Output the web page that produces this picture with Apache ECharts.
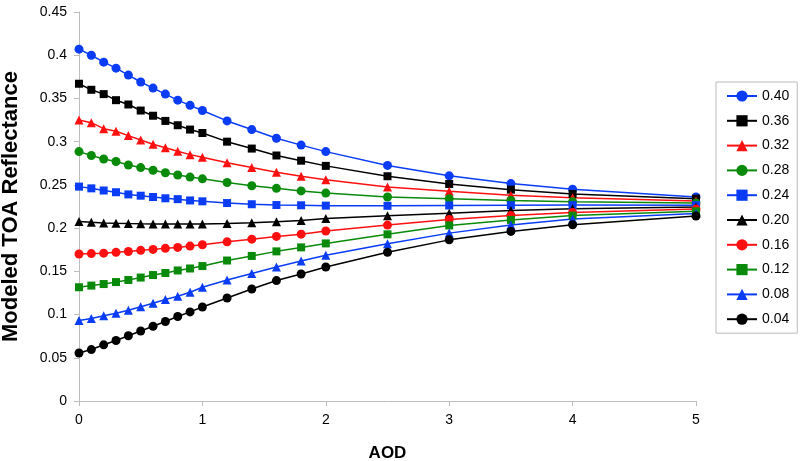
<!DOCTYPE html>
<html>
<head>
<meta charset="utf-8">
<script src="https://cdn.jsdelivr.net/npm/echarts@6/dist/echarts.min.js"></script>
<style>
html,body{margin:0;padding:0;background:#fff;}
#chart{width:801px;height:461px;}
</style>
</head>
<body>
<div id="chart"></div>
<script>
const aod = [0,0.1,0.2,0.3,0.4,0.5,0.6,0.7,0.8,0.9,1.0,1.2,1.4,1.6,1.8,2.0,2.5,3.0,3.5,4.0,5.0];

const s040 = [0.407,0.400,0.392,0.385,0.377,0.369,0.362,0.355,0.348,0.342,0.336,0.324,0.314,0.304,0.296,0.2885,0.2725,0.2605,0.2515,0.245,0.236];
const s036 = [0.367,0.360,0.355,0.348,0.343,0.336,0.330,0.324,0.319,0.314,0.310,0.300,0.292,0.284,0.278,0.272,0.260,0.251,0.2445,0.2395,0.234];
const s032 = [0.325,0.322,0.315,0.312,0.307,0.302,0.297,0.293,0.289,0.285,0.282,0.2755,0.270,0.2645,0.260,0.256,0.2475,0.2425,0.238,0.235,0.2315];
const s028 = [0.2885,0.284,0.280,0.277,0.273,0.270,0.267,0.264,0.2615,0.259,0.257,0.2527,0.249,0.246,0.243,0.2405,0.236,0.234,0.232,0.2305,0.229];
const s024 = [0.248,0.246,0.2435,0.2415,0.239,0.2375,0.236,0.2345,0.2335,0.232,0.231,0.229,0.2276,0.2267,0.2264,0.226,0.2258,0.2262,0.2265,0.2266,0.2265];
const s020 = [0.2077,0.2067,0.206,0.2055,0.2052,0.205,0.2049,0.2049,0.2049,0.2049,0.2049,0.2054,0.2062,0.2073,0.2087,0.211,0.2142,0.2173,0.2205,0.2225,0.2245];
const s016 = [0.170,0.1705,0.171,0.172,0.173,0.1743,0.1754,0.1766,0.1777,0.1792,0.1808,0.1841,0.1872,0.1904,0.193,0.1967,0.2035,0.210,0.2145,0.218,0.222];
const s012 = [0.1316,0.1335,0.1353,0.1376,0.140,0.1428,0.1457,0.1481,0.151,0.1533,0.1561,0.1625,0.1678,0.1731,0.1777,0.1823,0.1928,0.2031,0.2095,0.2145,0.2195];
const s008 = [0.093,0.0955,0.0985,0.1015,0.105,0.109,0.113,0.1174,0.1212,0.1258,0.1316,0.140,0.1475,0.155,0.162,0.1685,0.182,0.1942,0.2035,0.2105,0.217];
const s004 = [0.0555,0.0595,0.065,0.070,0.0755,0.081,0.0865,0.092,0.0977,0.1031,0.1088,0.1192,0.1296,0.1393,0.1469,0.155,0.1721,0.1864,0.1962,0.2039,0.214];

const seriesNames = ['0.40','0.36','0.32','0.28','0.24','0.20','0.16','0.12','0.08','0.04'];
const seriesValues = [s040,s036,s032,s028,s024,s020,s016,s012,s008,s004];

const BLUE='#0a3cf5', BLACK='#000000', RED='#ff1010', GREEN='#0a8a0a';
const styles = [
  {c:BLUE, s:'circle', z:9},
  {c:BLACK, s:'rect', z:8},
  {c:RED, s:'triangle', z:9},
  {c:GREEN, s:'circle', z:9},
  {c:BLUE, s:'rect', z:8},
  {c:BLACK, s:'triangle', z:9},
  {c:RED, s:'circle', z:9},
  {c:GREEN, s:'rect', z:8},
  {c:BLUE, s:'triangle', z:9},
  {c:BLACK, s:'circle', z:9}
];

const series = seriesNames.map((n,i)=>({
  name:n,
  type:'line',
  data: aod.map((x,j)=>[x, seriesValues[i][j]]),
  symbol: styles[i].s,
  symbolSize: styles[i].z,
  showSymbol:true,
  lineStyle:{color:styles[i].c, width:1.5},
  itemStyle:{color:styles[i].c, borderColor:styles[i].c, borderWidth:0},
  emphasis:{disabled:true},
  animation:false
}));

const FONT = '"Liberation Sans", Arial, sans-serif';
const chart = echarts.init(document.getElementById('chart'), null, {renderer:'canvas'});
chart.setOption({
  backgroundColor:'#ffffff',
  animation:false,
  textStyle:{fontFamily:FONT},
  grid:{left:79, right:105, top:12, bottom:60, containLabel:false, outerBoundsMode:'none'},
  xAxis:{
    type:'value', min:0, max:5, interval:1,
    name:'AOD', nameLocation:'middle', nameGap:44,
    nameTextStyle:{fontFamily:FONT, fontSize:17, fontWeight:'bold', color:'#000'},
    axisLine:{show:true, lineStyle:{color:'#bdbdbd', width:1}},
    axisTick:{show:true, length:5, lineStyle:{color:'#bdbdbd'}},
    axisLabel:{fontFamily:FONT, fontSize:14, color:'#000', margin:12},
    splitLine:{show:false}
  },
  yAxis:{
    type:'value', min:0, max:0.45, interval:0.05,
    name:'Modeled TOA Reflectance', nameLocation:'middle', nameGap:57,
    nameTextStyle:{fontFamily:FONT, fontSize:22, fontWeight:'bold', color:'#000'},
    axisLine:{show:true, lineStyle:{color:'#bdbdbd', width:1}},
    axisTick:{show:true, length:5, lineStyle:{color:'#bdbdbd'}},
    axisLabel:{fontFamily:FONT, fontSize:14, color:'#000', margin:12,
      formatter:v=>String(+v.toFixed(2))},
    splitLine:{show:false}
  },
  legend:{
    orient:'vertical', left:716, top:82,
    padding:[7,8,7,10],
    borderColor:'#bbbbbb', borderWidth:1,
    itemWidth:30, itemHeight:14, itemGap:10.8,
    textStyle:{fontFamily:FONT, fontSize:14, color:'#000'},
    data: seriesNames
  },
  series: series
});
</script>
</body>
</html>
